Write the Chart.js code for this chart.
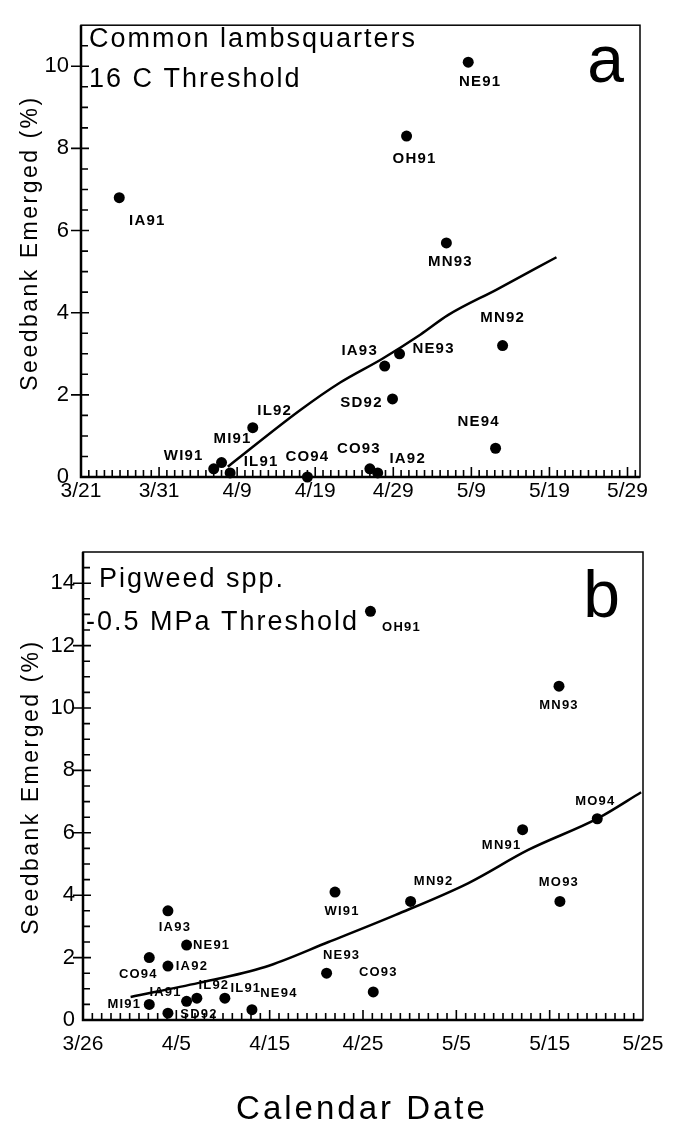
<!DOCTYPE html>
<html>
<head>
<meta charset="utf-8">
<script src="https://cdn.jsdelivr.net/npm/chart.js@4.4.0/dist/chart.umd.min.js"></script>
<style>
html, body { margin: 0; padding: 0; background: #fff; }
body { width: 679px; height: 1123px; position: relative; overflow: hidden; }
.panel { position: absolute; left: 0; width: 679px; }
#wrapA { top: 0; height: 520px; }
#wrapB { top: 520px; height: 603px; }
</style>
</head>
<body>
<div class="panel" id="wrapA"><canvas id="chartA"></canvas></div>
<div class="panel" id="wrapB"><canvas id="chartB"></canvas></div>
<script>
// panel a - common lambsquarters, 16 C threshold (x = days after 3/21)
const aSites = ['IA91', 'NE91', 'OH91', 'MN93', 'MN92', 'NE93', 'IA93', 'SD92', 'NE94', 'CO93', 'IA92', 'CO94', 'IL92', 'WI91', 'MI91', 'IL91'];
const aDay = [4.9, 49.6, 41.7, 46.8, 54.0, 40.8, 38.9, 39.9, 53.1, 37.0, 38.0, 29.0, 22.0, 17.0, 18.0, 19.1];
const aEmerged = [6.8, 10.1, 8.3, 5.7, 3.2, 3.0, 2.7, 1.9, 0.7, 0.2, 0.1, 0.0, 1.2, 0.2, 0.35, 0.1];
const aFitDay = [18.8, 28.1, 33.2, 38.6, 43.5, 47.0, 53.3, 60.9];
const aFitEmerged = [0.25, 1.63, 2.3, 2.88, 3.47, 3.94, 4.57, 5.35];
const aTickDays = [0, 10, 20, 30, 40, 50, 60, 70];
const aTickLabels = ['3/21', '3/31', '4/9', '4/19', '4/29', '5/9', '5/19', '5/29'];

// panel b - pigweed spp., -0.5 MPa threshold (x = days after 3/26)
const bSites = ['OH91', 'MN93', 'MO94', 'MN91', 'MO93', 'MN92', 'WI91', 'NE93', 'CO93', 'IA93', 'NE91', 'CO94', 'IA92', 'MI91', 'SD92', 'IA91', 'IL92', 'IL91', 'NE94'];
const bDay = [30.8, 51.0, 55.1, 47.1, 51.1, 35.1, 27.0, 26.1, 31.1, 9.1, 11.1, 7.1, 9.1, 7.1, 9.1, 11.1, 12.2, 15.2, 18.1];
const bEmerged = [13.1, 10.7, 6.45, 6.1, 3.8, 3.8, 4.1, 1.5, 0.9, 3.5, 2.4, 2.0, 1.73, 0.5, 0.22, 0.6, 0.7, 0.7, 0.33];
const bFitDay = [5.1, 12.4, 19.5, 26.3, 33.5, 41.3, 47.7, 55.2, 59.8];
const bFitEmerged = [0.74, 1.19, 1.7, 2.5, 3.37, 4.39, 5.45, 6.47, 7.3];
const bTickDays = [0, 10, 20, 30, 40, 50, 60];
const bTickLabels = ['3/26', '4/5', '4/15', '4/25', '5/5', '5/15', '5/25'];

// where each site label sits relative to its dot (px)
const aLabelPos = {
  IA91: [28, 23], NE91: [12, 20], OH91: [8, 23], MN93: [4, 19], MN92: [0, -28],
  NE93: [34, -5], IA93: [-25, -15], SD92: [-31, 4], NE94: [-17, -26], CO93: [-11, -20],
  IA92: [30, -14], CO94: [0, -20], IL92: [22, -17], WI91: [-30, -13], MI91: [11, -24], IL91: [31, -11]
};
const bLabelPos = {
  OH91: [31, 16], MN93: [0, 19], MO94: [-2, -17], MN91: [-21, 16], MO93: [-1, -19],
  MN92: [23, -20], WI91: [7, 19], NE93: [15, -18], CO93: [5, -19], IA93: [7, 17],
  NE91: [25, 0], CO94: [-11, 17], IA92: [24, 0], MI91: [-25, 0], SD92: [31, 1],
  IA91: [-21, -9], IL92: [17, -13], IL91: [21, -10], NE94: [27, -16]
};

const FONT = "'Liberation Sans', Arial, Helvetica, sans-serif";

function txt(ctx, s, x, y, font, spacing, align) {
  ctx.save();
  ctx.font = font;
  ctx.letterSpacing = spacing + 'px';
  ctx.textAlign = align || 'left';
  ctx.textBaseline = 'alphabetic';
  ctx.fillStyle = '#000';
  ctx.fillText(s, x, y);
  ctx.restore();
}

const decor = {
  id: 'decor',
  beforeDatasetsDraw(chart, args, o) {
    const { ctx, chartArea: ca, scales: { x, y } } = chart;
    ctx.save();
    ctx.strokeStyle = '#000';
    ctx.lineWidth = 1.6;
    ctx.beginPath();
    for (let d = 1; d < x.max; d++) {
      const px = x.getPixelForValue(d);
      const len = d % 10 === 0 ? 10 : 7;
      ctx.moveTo(px, ca.bottom);
      ctx.lineTo(px, ca.bottom - len);
    }
    for (let v = 0.5; v < y.max; v += 0.5) {
      const py = y.getPixelForValue(v);
      if (v % 2 === 0) { ctx.moveTo(ca.left - 10, py); ctx.lineTo(ca.left + 8, py); }
      else { ctx.moveTo(ca.left, py); ctx.lineTo(ca.left + 7, py); }
    }
    ctx.stroke();
    ctx.lineWidth = 1.5;
    ctx.strokeRect(ca.left, ca.top, ca.width, ca.height);
    ctx.lineWidth = 2.5;
    ctx.beginPath();
    ctx.moveTo(ca.left, ca.top);
    ctx.lineTo(ca.left, ca.bottom);
    ctx.lineTo(ca.right, ca.bottom);
    ctx.stroke();
    ctx.restore();

    // texts inside and around the frame
    o.lines.forEach(l => txt(ctx, l[0], l[1], l[2], '27px ' + FONT, 2));
    txt(ctx, o.letter[0], o.letter[1], o.letter[2], '66px ' + FONT, 0, 'right');
    ctx.save();
    ctx.translate(o.yTitle[0], o.yTitle[1]);
    ctx.rotate(-Math.PI / 2);
    ctx.font = '23px ' + FONT;
    ctx.letterSpacing = '2.5px';
    ctx.textAlign = 'center';
    ctx.textBaseline = 'middle';
    ctx.fillStyle = '#000';
    ctx.fillText('Seedbank Emerged (%)', 0, 0);
    ctx.restore();
    if (o.xTitle) txt(ctx, 'Calendar Date', o.xTitle[0], o.xTitle[1], '33px ' + FONT, 3, 'center');
  },
  afterDatasetsDraw(chart, args, o) {
    const { ctx } = chart;
    const pts = chart.getDatasetMeta(1).data;
    ctx.save();
    ctx.font = o.labelFont;
    ctx.letterSpacing = o.labelSpacing + 'px';
    ctx.textAlign = 'center';
    ctx.textBaseline = 'middle';
    ctx.fillStyle = '#000';
    o.sites.forEach((s, i) => {
      const off = o.pos[s];
      ctx.fillText(s, pts[i].x + off[0], pts[i].y + off[1]);
    });
    ctx.restore();
  }
};

function makeChart(id, cfg) {
  return new Chart(document.getElementById(id), {
    data: {
      datasets: [
        {
          type: 'line',
          data: cfg.fitX.map((d, i) => ({ x: d, y: cfg.fitY[i] })),
          borderColor: '#000',
          borderWidth: 2.5,
          pointRadius: 0,
          cubicInterpolationMode: 'monotone',
          clip: false
        },
        {
          type: 'scatter',
          data: cfg.dayX.map((d, i) => ({ x: d, y: cfg.valY[i] })),
          backgroundColor: '#000',
          borderColor: '#000',
          borderWidth: 0,
          pointRadius: 5.5,
          clip: false
        }
      ]
    },
    options: {
      responsive: true,
      maintainAspectRatio: false,
      animation: false,
      events: [],
      layout: { padding: cfg.padding },
      plugins: {
        legend: { display: false },
        tooltip: { enabled: false },
        decor: cfg.decor
      },
      scales: {
        x: {
          type: 'linear',
          min: 0,
          max: cfg.xMax,
          grid: { display: false, drawTicks: false },
          border: { display: false },
          afterBuildTicks: s => { s.ticks = cfg.tickDays.map(v => ({ value: v })); },
          afterFit: s => { s.height = cfg.xHeight; },
          ticks: {
            autoSkip: false,
            maxRotation: 0,
            padding: cfg.xPad,
            color: '#000',
            font: { family: FONT, size: 21 },
            callback: v => cfg.tickLabels[cfg.tickDays.indexOf(v)]
          }
        },
        y: {
          min: 0,
          max: cfg.yMax,
          grid: { display: false, drawTicks: false },
          border: { display: false },
          afterBuildTicks: s => { s.ticks = cfg.yTicks.map(v => ({ value: v })); },
          afterFit: s => { s.width = cfg.yWidth; },
          ticks: {
            padding: cfg.yPad,
            color: '#000',
            font: { family: FONT, size: 22 }
          }
        }
      }
    },
    plugins: [decor]
  });
}

makeChart('chartA', {
  fitX: aFitDay, fitY: aFitEmerged, dayX: aDay, valY: aEmerged,
  tickDays: aTickDays, tickLabels: aTickLabels, yTicks: [0, 2, 4, 6, 8, 10],
  xMax: 71.6, yMax: 11, xHeight: 43, yWidth: 81, xPad: 2, yPad: 12,
  padding: { top: 10, right: 39, left: 0, bottom: 0 },
  decor: {
    lines: [['Common lambsquarters', 89, 47], ['16 C Threshold', 89, 87]],
    letter: ['a', 624, 82],
    yTitle: [31, 243],
    sites: aSites, pos: aLabelPos,
    labelFont: 'bold 15px ' + FONT, labelSpacing: 1.2
  }
});

makeChart('chartB', {
  fitX: bFitDay, fitY: bFitEmerged, dayX: bDay, valY: bEmerged,
  tickDays: bTickDays, tickLabels: bTickLabels, yTicks: [0, 2, 4, 6, 8, 10, 12, 14],
  xMax: 60, yMax: 15, xHeight: 103, yWidth: 83, xPad: 12, yPad: 8,
  padding: { top: 32, right: 36, left: 0, bottom: 0 },
  decor: {
    lines: [['Pigweed spp.', 99, 67], ['-0.5 MPa Threshold', 86, 110]],
    letter: ['b', 620, 97],
    yTitle: [32, 267],
    xTitle: [362, 599],
    sites: bSites, pos: bLabelPos,
    labelFont: 'bold 13px ' + FONT, labelSpacing: 1.2
  }
});
</script>
</body>
</html>
